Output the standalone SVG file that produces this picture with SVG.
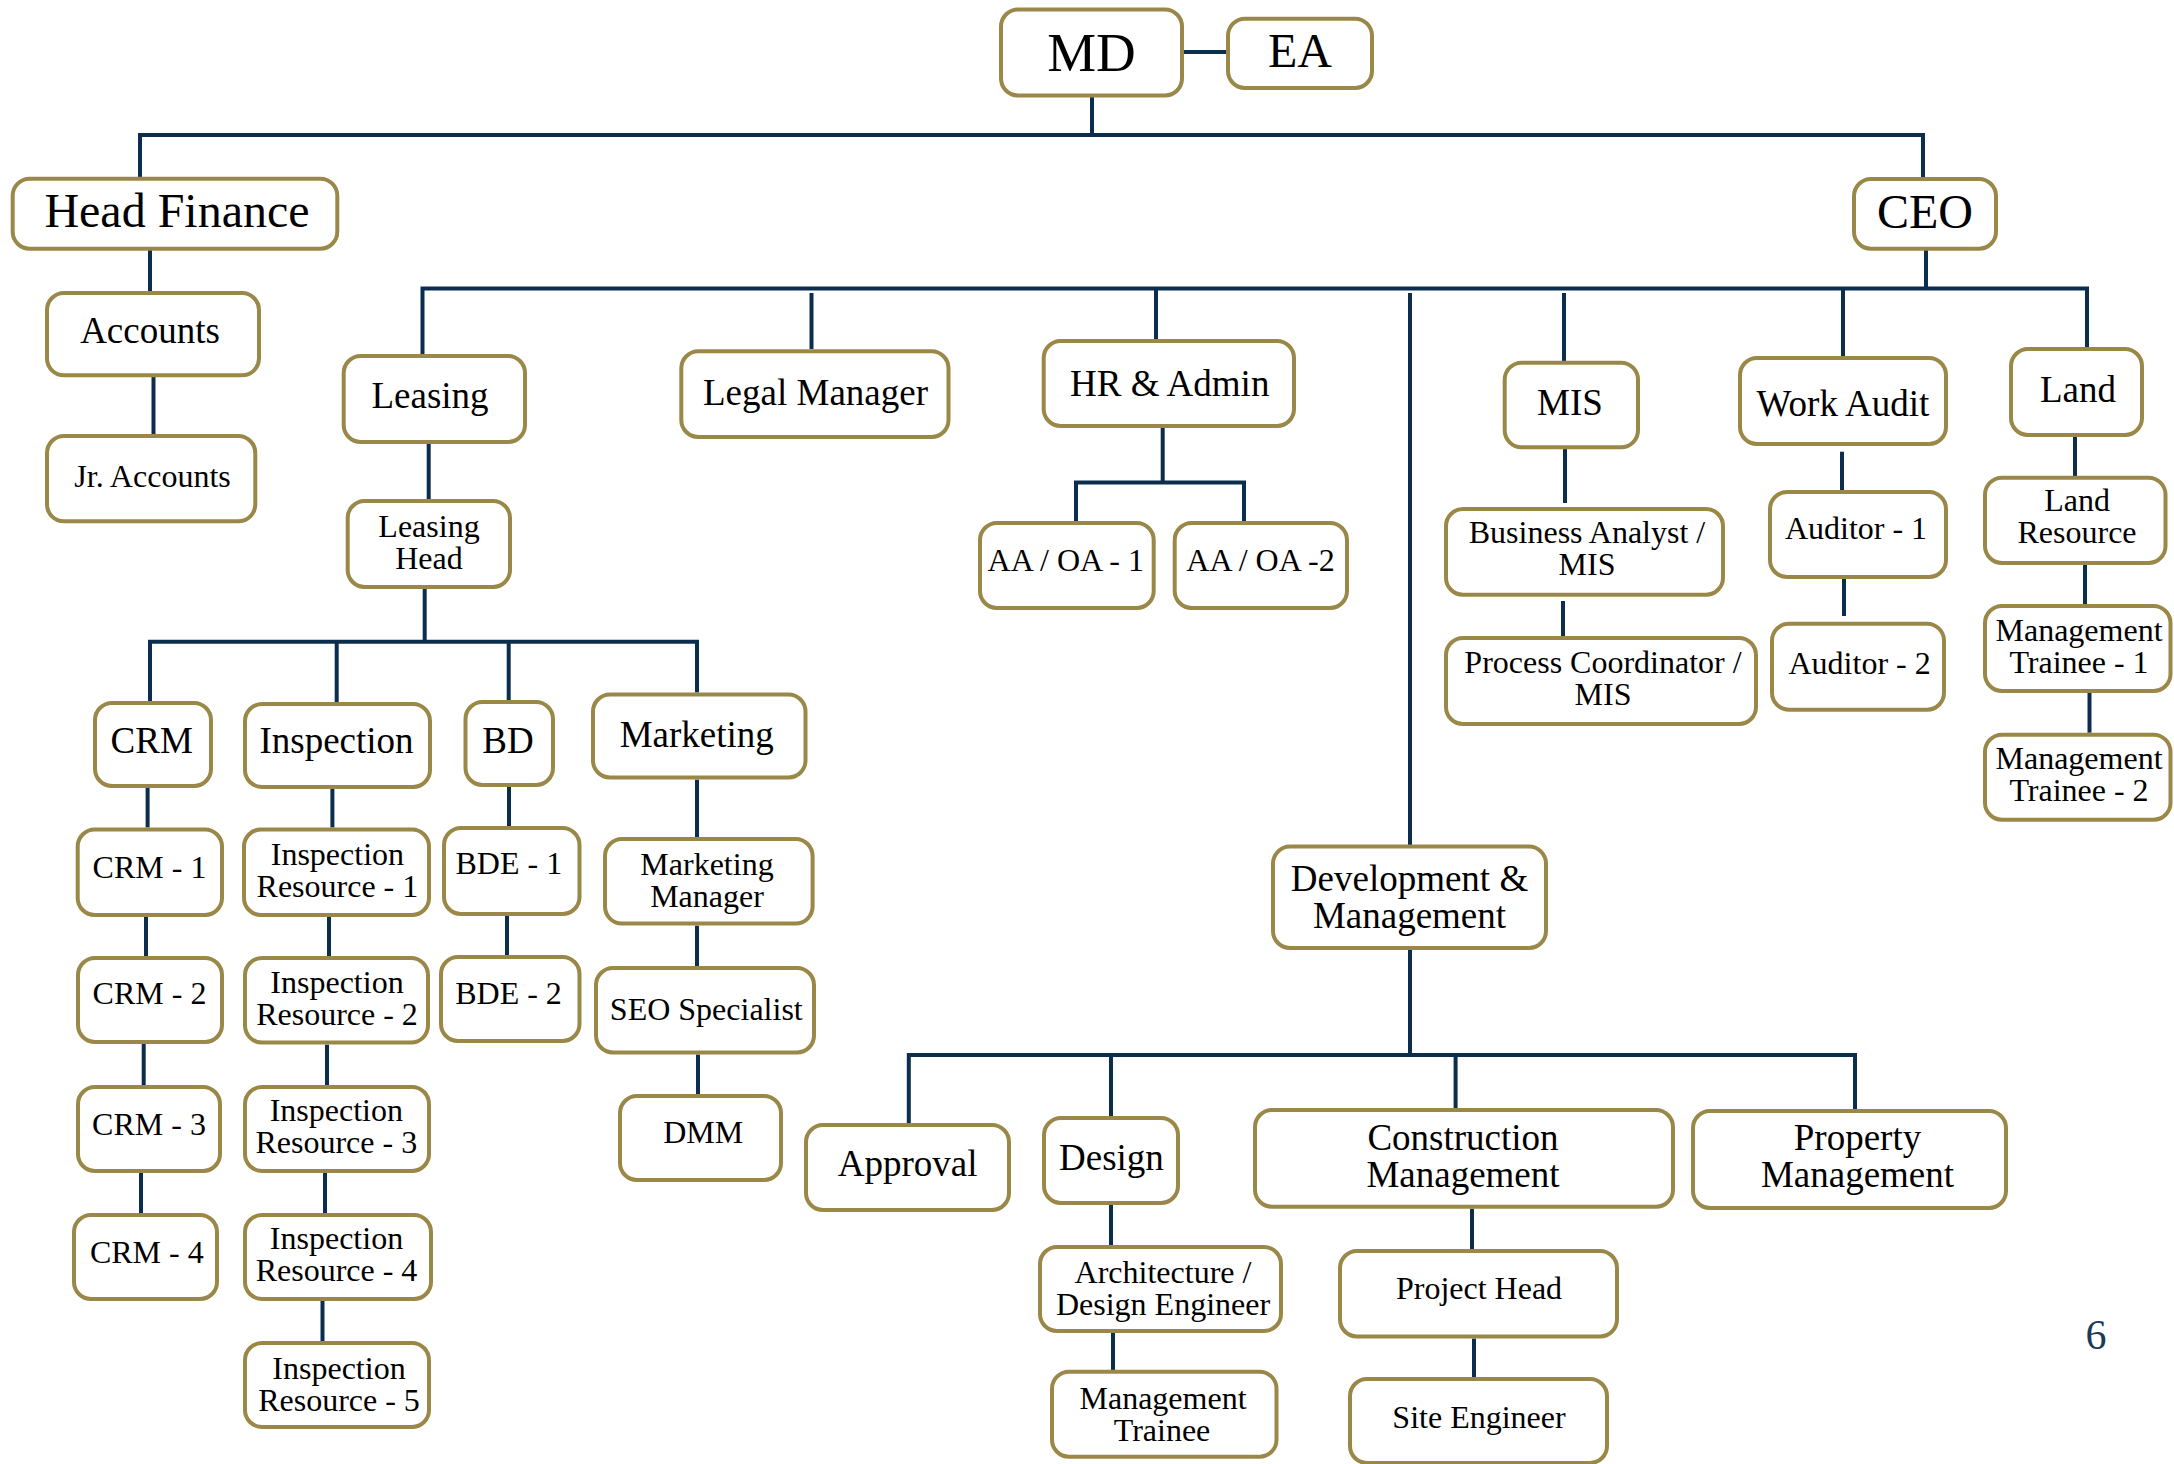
<svg xmlns="http://www.w3.org/2000/svg" width="2174" height="1464" viewBox="0 0 2174 1464">
<style>
.bg{fill:#ffffff}
.c{fill:none;stroke:#0C2E4E;stroke-width:4;stroke-linejoin:miter;stroke-linecap:butt}
.n rect{fill:#ffffff;stroke:#9A8848;stroke-width:4}
text{font-family:"Liberation Serif","Times New Roman",serif;fill:#000000;text-anchor:middle}
.xl{font-size:55px}
.l{font-size:48px}
.m{font-size:37px}
.s{font-size:32px}
.pg{font-size:42px;fill:#1B3A57}
</style>
<rect class="bg" x="0" y="0" width="2174" height="1464"/>
<g id="connectors">
<path class="c" d="M1184 52 H1226"/>
<path class="c" d="M1092 97 V135"/>
<path class="c" d="M140 177 V135 H1923 V177"/>
<path class="c" d="M1926 250 V288.6"/>
<path class="c" d="M422.5 355 V288.6 H2087 V347"/>
<path class="c" d="M811.5 293 V349"/>
<path class="c" d="M1156 288.6 V339"/>
<path class="c" d="M1410 293 V845"/>
<path class="c" d="M1564 293 V361"/>
<path class="c" d="M1843 288.6 V356"/>
<path class="c" d="M150 250 V291"/>
<path class="c" d="M153.5 377 V434"/>
<path class="c" d="M428.7 444 V499"/>
<path class="c" d="M424.7 589 V641.7"/>
<path class="c" d="M150 701 V641.7 H697 V692.5"/>
<path class="c" d="M336.7 641.7 V702"/>
<path class="c" d="M508.7 641.7 V700"/>
<path class="c" d="M147.6 788 V827.5"/>
<path class="c" d="M146 917 V956"/>
<path class="c" d="M143.7 1044 V1085"/>
<path class="c" d="M141 1173 V1213"/>
<path class="c" d="M332.4 789 V827.5"/>
<path class="c" d="M329 917 V956"/>
<path class="c" d="M327 1044.6 V1085"/>
<path class="c" d="M325 1173 V1213"/>
<path class="c" d="M322.5 1301 V1341"/>
<path class="c" d="M509 787 V826"/>
<path class="c" d="M507 916 V955"/>
<path class="c" d="M697 779.6 V837"/>
<path class="c" d="M697 925.6 V966"/>
<path class="c" d="M698 1054.5 V1094"/>
<path class="c" d="M1162.7 428 V482.5"/>
<path class="c" d="M1076 521 V482.5 H1244 V521"/>
<path class="c" d="M1565 449 V503"/>
<path class="c" d="M1563 601 V638"/>
<path class="c" d="M1842 451.7 V490"/>
<path class="c" d="M1844 579 V616"/>
<path class="c" d="M2075 437 V476"/>
<path class="c" d="M2085 565 V604"/>
<path class="c" d="M2089.5 693 V732.7"/>
<path class="c" d="M1410 950 V1055"/>
<path class="c" d="M908.8 1123 V1055 H1855 V1109"/>
<path class="c" d="M1111 1055 V1116"/>
<path class="c" d="M1455.6 1055 V1108"/>
<path class="c" d="M1111 1205 V1245"/>
<path class="c" d="M1113 1333 V1370"/>
<path class="c" d="M1472 1208.7 V1249"/>
<path class="c" d="M1474 1338.5 V1377"/>
</g>
<g id="md" class="n"><rect x="1001" y="9.5" width="181" height="86" rx="17"/><text class="xl" x="1091.5" y="70.5">MD</text></g>
<g id="ea" class="n"><rect x="1228" y="18.7" width="144" height="69.3" rx="17"/><text class="l" x="1300" y="67.3">EA</text></g>
<g id="head-finance" class="n"><rect x="12.7" y="178.7" width="324.6" height="70" rx="17"/><text class="l" x="177" y="227">Head Finance</text></g>
<g id="ceo" class="n"><rect x="1854" y="179" width="142" height="69.7" rx="17"/><text class="l" x="1925" y="228">CEO</text></g>
<g id="accounts" class="n"><rect x="47" y="293" width="212" height="82.3" rx="17"/><text class="m" x="150" y="343.2">Accounts</text></g>
<g id="jr-accounts" class="n"><rect x="47" y="436" width="208.3" height="85.3" rx="17"/><text class="s" x="152.5" y="487">Jr. Accounts</text></g>
<g id="leasing" class="n"><rect x="343.7" y="356" width="181.3" height="86" rx="17"/><text class="m" x="430" y="407.7">Leasing</text></g>
<g id="leasing-head" class="n"><rect x="347.7" y="501" width="162.3" height="86" rx="17"/><text class="s" x="429" y="536.6">Leasing<tspan x="429" dy="32">Head</tspan></text></g>
<g id="legal-manager" class="n"><rect x="681.3" y="351.3" width="267.2" height="85.7" rx="17"/><text class="m" x="815.5" y="404.7">Legal Manager</text></g>
<g id="hr-admin" class="n"><rect x="1043.7" y="341" width="250.3" height="85" rx="17"/><text class="m" x="1169.7" y="396.2">HR &amp; Admin</text></g>
<g id="aa-oa-1" class="n"><rect x="980" y="523" width="173.7" height="85" rx="17"/><text class="s" x="1065.8" y="570.6">AA / OA - 1</text></g>
<g id="aa-oa-2" class="n"><rect x="1174.7" y="523" width="172.3" height="85" rx="17"/><text class="s" x="1260.5" y="570.6">AA / OA -2</text></g>
<g id="mis" class="n"><rect x="1504.7" y="362.7" width="133.3" height="84.6" rx="17"/><text class="m" x="1570" y="414.7">MIS</text></g>
<g id="business-analyst" class="n"><rect x="1446" y="509" width="277" height="85.7" rx="17"/><text class="s" x="1587" y="543.1">Business Analyst /<tspan x="1587" dy="32">MIS</tspan></text></g>
<g id="process-coordinator" class="n"><rect x="1446" y="638" width="310" height="86" rx="17"/><text class="s" x="1603" y="673.1">Process Coordinator /<tspan x="1603" dy="32">MIS</tspan></text></g>
<g id="work-audit" class="n"><rect x="1740" y="358" width="206" height="86" rx="17"/><text class="m" x="1843" y="416">Work Audit</text></g>
<g id="auditor-1" class="n"><rect x="1770" y="492" width="176" height="85" rx="17"/><text class="s" x="1856" y="538.6">Auditor - 1</text></g>
<g id="auditor-2" class="n"><rect x="1772" y="623.7" width="172" height="86" rx="17"/><text class="s" x="1859.6" y="673.6">Auditor - 2</text></g>
<g id="land" class="n"><rect x="2011" y="349" width="131" height="86" rx="17"/><text class="m" x="2078" y="402.2">Land</text></g>
<g id="land-resource" class="n"><rect x="1985" y="477.7" width="180.5" height="85.3" rx="17"/><text class="s" x="2077" y="510.6">Land<tspan x="2077" dy="32">Resource</tspan></text></g>
<g id="management-trainee-1" class="n"><rect x="1985" y="606" width="185.5" height="85" rx="17"/><text class="s" x="2079" y="640.6">Management<tspan x="2079" dy="32">Trainee - 1</tspan></text></g>
<g id="management-trainee-2" class="n"><rect x="1985" y="734.7" width="185.5" height="85" rx="17"/><text class="s" x="2079" y="768.6">Management<tspan x="2079" dy="32">Trainee - 2</tspan></text></g>
<g id="development-management" class="n"><rect x="1273" y="846.6" width="273" height="101.4" rx="17"/><text class="m" x="1409.5" y="891.2">Development &amp;<tspan x="1409.5" dy="37">Management</tspan></text></g>
<g id="crm" class="n"><rect x="95" y="703" width="116" height="83" rx="17"/><text class="m" x="151.7" y="753.2">CRM</text></g>
<g id="inspection" class="n"><rect x="245" y="704" width="185" height="83" rx="17"/><text class="m" x="336.5" y="753.2">Inspection</text></g>
<g id="bd" class="n"><rect x="465.5" y="702" width="87.5" height="83" rx="17"/><text class="m" x="508" y="753.2">BD</text></g>
<g id="marketing" class="n"><rect x="593" y="694.5" width="212.5" height="83" rx="17"/><text class="m" x="696.7" y="746.7">Marketing</text></g>
<g id="crm-1" class="n"><rect x="77.7" y="829.5" width="144.3" height="85.5" rx="17"/><text class="s" x="149.5" y="878.2">CRM - 1</text></g>
<g id="crm-2" class="n"><rect x="78" y="958" width="144" height="84" rx="17"/><text class="s" x="149.5" y="1003.6">CRM - 2</text></g>
<g id="crm-3" class="n"><rect x="78" y="1087" width="142" height="84" rx="17"/><text class="s" x="149" y="1134.6">CRM - 3</text></g>
<g id="crm-4" class="n"><rect x="74" y="1215" width="143" height="84" rx="17"/><text class="s" x="146.8" y="1263.2">CRM - 4</text></g>
<g id="inspection-resource-1" class="n"><rect x="244" y="829.5" width="185" height="85.5" rx="17"/><text class="s" x="337.4" y="864.6">Inspection<tspan x="337.4" dy="32">Resource - 1</tspan></text></g>
<g id="inspection-resource-2" class="n"><rect x="245" y="958" width="183" height="84.6" rx="17"/><text class="s" x="337" y="992.6">Inspection<tspan x="337" dy="32">Resource - 2</tspan></text></g>
<g id="inspection-resource-3" class="n"><rect x="245" y="1087" width="184" height="84" rx="17"/><text class="s" x="336.3" y="1120.8">Inspection<tspan x="336.3" dy="32">Resource - 3</tspan></text></g>
<g id="inspection-resource-4" class="n"><rect x="245" y="1215" width="186" height="84" rx="17"/><text class="s" x="336.5" y="1248.9">Inspection<tspan x="336.5" dy="32">Resource - 4</tspan></text></g>
<g id="inspection-resource-5" class="n"><rect x="245" y="1343" width="184" height="84" rx="17"/><text class="s" x="339" y="1378.6">Inspection<tspan x="339" dy="32">Resource - 5</tspan></text></g>
<g id="bde-1" class="n"><rect x="444" y="828" width="135.5" height="86" rx="17"/><text class="s" x="508.8" y="874.4">BDE - 1</text></g>
<g id="bde-2" class="n"><rect x="441" y="957" width="138.5" height="84" rx="17"/><text class="s" x="508.5" y="1003.6">BDE - 2</text></g>
<g id="marketing-manager" class="n"><rect x="605" y="839" width="207.6" height="84.6" rx="17"/><text class="s" x="707" y="875.1">Marketing<tspan x="707" dy="32">Manager</tspan></text></g>
<g id="seo-specialist" class="n"><rect x="596" y="968" width="218" height="84.5" rx="17"/><text class="s" x="706.3" y="1020.2">SEO Specialist</text></g>
<g id="dmm" class="n"><rect x="620" y="1096" width="161" height="84" rx="17"/><text class="s" x="703.2" y="1142.6">DMM</text></g>
<g id="approval" class="n"><rect x="806" y="1125" width="203" height="85" rx="17"/><text class="m" x="907.7" y="1176.2">Approval</text></g>
<g id="design" class="n"><rect x="1044" y="1118" width="134" height="85" rx="17"/><text class="m" x="1111.4" y="1170.2">Design</text></g>
<g id="architecture-design-engineer" class="n"><rect x="1040" y="1247" width="241" height="84" rx="17"/><text class="s" x="1163" y="1282.6">Architecture /<tspan x="1163" dy="32">Design Engineer</tspan></text></g>
<g id="management-trainee" class="n"><rect x="1052" y="1371.7" width="224.5" height="85" rx="17"/><text class="s" x="1163" y="1409.4">Management<tspan x="1162" dy="32">Trainee</tspan></text></g>
<g id="construction-management" class="n"><rect x="1255" y="1110" width="418" height="96.7" rx="17"/><text class="m" x="1463" y="1150.2">Construction<tspan x="1463" dy="37">Management</tspan></text></g>
<g id="property-management" class="n"><rect x="1693" y="1111" width="313" height="97" rx="17"/><text class="m" x="1857.5" y="1150.2">Property<tspan x="1857.5" dy="37">Management</tspan></text></g>
<g id="project-head" class="n"><rect x="1340" y="1251" width="277" height="85.5" rx="17"/><text class="s" x="1479" y="1298.6">Project Head</text></g>
<g id="site-engineer" class="n"><rect x="1350" y="1379" width="257" height="84" rx="17"/><text class="s" x="1479" y="1427.6">Site Engineer</text></g>
<text class="pg" x="2096" y="1349">6</text>
</svg>
